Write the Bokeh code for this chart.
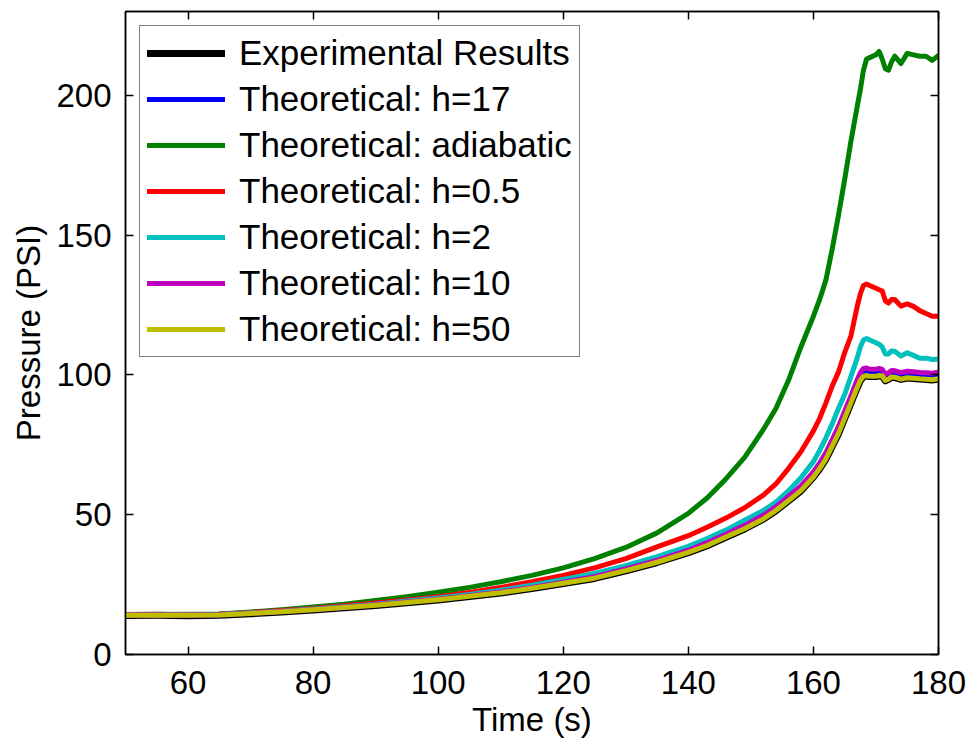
from bokeh.plotting import figure
from bokeh.models import LinearAxis, FixedTicker, Range1d
from bokeh.embed import file_html
from bokeh.resources import INLINE

# ---------------- data ----------------
time_s = [50, 55, 60, 65, 70, 75, 80, 85, 90, 95,
          100, 105, 110, 115, 120, 125, 130, 135, 140, 143,
          146, 149, 152, 154, 156, 158, 160, 161, 162, 163,
          164, 165, 166, 167, 167.5, 168, 168.5, 169, 170, 170.5,
          171, 171.5, 172, 172.5, 173, 174, 175, 176, 177, 178,
          179, 180]

experimental = [13.95, 14.0, 13.9, 14.05, 14.6, 15.2, 15.9, 16.7, 17.5, 18.5,
                19.5, 20.7, 22.0, 23.6, 25.4, 27.2, 29.9, 32.9, 36.4, 38.9,
                41.9, 44.9, 48.4, 51.4, 54.9, 58.5, 63.4, 66.4, 69.9, 74.4,
                78.9, 84.4, 89.9, 95.4, 97.9, 99.4, 99.7, 99.4, 99.4, 99.7,
                99.5, 97.9, 98.4, 99.2, 99.1, 98.4, 98.9, 98.7, 98.5, 98.4,
                98.2, 98.5]

h17 = [14.05, 14.05, 14.05, 14.15, 14.75, 15.35, 16.05, 16.85, 17.7, 18.7,
       19.7, 20.9, 22.25, 23.85, 25.7, 27.6, 30.3, 33.4, 36.9, 39.5,
       42.5, 45.6, 49.2, 52.2, 55.8, 59.5, 64.4, 67.5, 71.1, 75.6,
       80.3, 85.8, 91.3, 97.0, 99.5, 101.2, 101.5, 101.1, 101.1, 101.4,
       101.1, 99.3, 99.8, 100.6, 100.5, 99.8, 100.3, 100.1, 99.9, 99.8,
       99.6, 100.0]

adiabatic = [14.3, 14.3, 14.4, 14.5, 15.2, 16.0, 17.0, 18.0, 19.3, 20.7,
             22.3, 24.0, 26.0, 28.3, 31.0, 34.3, 38.3, 43.5, 50.5, 56.0,
             62.8, 70.5, 80.5, 88.0, 98.0, 110.0, 121.0, 127.0, 134.0, 145.0,
             157.0, 170.0, 183.6, 196.0, 202.0, 209.0, 213.0, 213.5, 214.5, 215.7,
             213.0, 209.5, 209.0, 212.0, 214.0, 211.4, 215.0, 214.5, 214.0, 214.0,
             212.5, 214.3]

h05 = [14.2, 14.2, 14.3, 14.4, 15.0, 15.7, 16.5, 17.4, 18.4, 19.5,
       20.7, 22.2, 24.0, 26.0, 28.3, 31.0, 34.3, 38.5, 42.5, 45.5,
       48.8, 52.5, 57.0, 61.0, 66.5, 72.5, 80.0, 84.5, 90.0, 96.0,
       101.0, 108.0, 114.0, 124.5, 129.0, 132.0, 132.5, 132.0, 131.0, 130.5,
       130.0, 126.5, 125.7, 127.0, 127.0, 124.6, 125.4, 124.5, 123.0, 122.0,
       121.0, 121.0]

h2 = [14.1, 14.1, 14.2, 14.3, 14.9, 15.5, 16.3, 17.1, 18.0, 19.1,
      20.2, 21.5, 23.0, 24.8, 26.8, 29.0, 31.8, 35.0, 38.7, 41.5,
      44.5, 48.0, 51.5, 54.5, 58.5, 63.2, 69.0, 73.0, 77.5, 82.5,
      88.0, 93.0, 99.5, 106.0, 110.0, 112.5, 113.0, 112.5, 111.5, 111.0,
      110.0, 107.5, 107.5, 108.6, 108.5, 106.8, 107.9, 107.0, 106.0, 106.0,
      105.5, 105.7]

h10 = [14.1, 14.1, 14.1, 14.2, 14.8, 15.4, 16.1, 16.9, 17.8, 18.8,
       19.8, 21.0, 22.4, 24.0, 25.9, 27.8, 30.6, 33.7, 37.3, 40.0,
       43.0, 46.2, 49.8, 52.8, 56.5, 60.3, 65.3, 68.5, 72.2, 76.8,
       81.5, 87.0, 92.5, 98.3, 100.8, 102.3, 102.5, 102.0, 102.0, 102.3,
       102.0, 100.2, 100.8, 101.6, 101.5, 100.8, 101.3, 101.1, 100.9, 100.8,
       100.6, 101.0]

h50 = [14.0, 14.0, 14.0, 14.1, 14.7, 15.3, 16.0, 16.8, 17.6, 18.6,
       19.6, 20.8, 22.1, 23.7, 25.5, 27.3, 30.0, 33.0, 36.5, 39.0,
       42.0, 45.0, 48.5, 51.5, 55.0, 58.6, 63.5, 66.5, 70.0, 74.5,
       79.0, 84.5, 90.0, 95.5, 98.0, 99.5, 99.8, 99.5, 99.5, 99.8,
       99.6, 98.0, 98.5, 99.3, 99.2, 98.5, 99.0, 98.8, 98.6, 98.5,
       98.3, 98.6]

series_labels = ["Experimental Results", "Theoretical: h=17", "Theoretical: adiabatic",
                 "Theoretical: h=0.5", "Theoretical: h=2", "Theoretical: h=10",
                 "Theoretical: h=50"]
series_values = [experimental, h17, adiabatic, h05, h2, h10, h50]
series_colors = ["#000000", "#0000FF", "#008000", "#FF0000", "#00BFBF", "#BF00BF", "#BFBF00"]
series_widths = [7, 5, 5, 5, 5, 5, 5]

x_ticks = [60, 80, 100, 120, 140, 160, 180]
y_ticks = [0, 50, 100, 150, 200]

FONT = "Liberation Sans"

p = figure(width=970, height=740,
           x_range=Range1d(50, 180), y_range=Range1d(0, 230),
           output_backend="svg", toolbar_location=None,
           min_border_left=125, min_border_right=32,
           min_border_top=11, min_border_bottom=86)

p.grid.visible = False
p.outline_line_color = "black"
p.outline_line_width = 1.5
p.background_fill_color = "white"
p.border_fill_color = "white"

for lbl, vals, col, w in zip(series_labels, series_values, series_colors, series_widths):
    p.line(time_s, vals, line_color=col, line_width=w, line_join="round",
           line_cap="round", legend_label=lbl)

def style_axis(ax, ticks, show_labels):
    ax.ticker = FixedTicker(ticks=ticks)
    ax.minor_tick_line_color = None
    ax.major_tick_in = 8
    ax.major_tick_out = 0
    ax.major_tick_line_width = 1.5
    ax.major_tick_line_color = "black"
    ax.axis_line_width = 1.5
    ax.axis_line_color = "black"
    ax.major_label_text_font = FONT
    ax.major_label_text_color = "black"
    if show_labels:
        ax.major_label_text_font_size = "33px"
        ax.major_label_text_line_height = 1.0
    else:
        ax.major_label_text_font_size = "0px"
        ax.major_label_text_color = None
        ax.major_label_standoff = 0

xa = p.xaxis[0]
ya = p.yaxis[0]
style_axis(xa, x_ticks, True)
style_axis(ya, y_ticks, True)
xa.major_label_standoff = 16
ya.major_label_standoff = 14
xa.axis_label = "Time (s)"
ya.axis_label = "Pressure (PSI)"
for ax in (xa, ya):
    ax.axis_label_text_font = FONT
    ax.axis_label_text_font_size = "33px"
    ax.axis_label_text_font_style = "normal"
    ax.axis_label_text_color = "black"
    ax.axis_label_text_line_height = 1.0
xa.axis_label_standoff = 4
ya.axis_label_standoff = 6

top_ax = LinearAxis()
right_ax = LinearAxis()
style_axis(top_ax, x_ticks, False)
style_axis(right_ax, y_ticks, False)
p.add_layout(top_ax, "above")
p.add_layout(right_ax, "right")

lg = p.legend[0]
lg.location = "top_left"
lg.margin = 14
lg.padding = 7
lg.spacing = 6
lg.label_height = 40
lg.glyph_height = 40
lg.glyph_width = 78
lg.label_standoff = 14
lg.label_text_font = FONT
lg.label_text_font_size = "35px"
lg.label_text_color = "black"
lg.border_line_color = "black"
lg.border_line_width = 1.5
lg.background_fill_color = "white"
lg.background_fill_alpha = 1.0

open("out.html", "w").write(file_html(p, INLINE))
